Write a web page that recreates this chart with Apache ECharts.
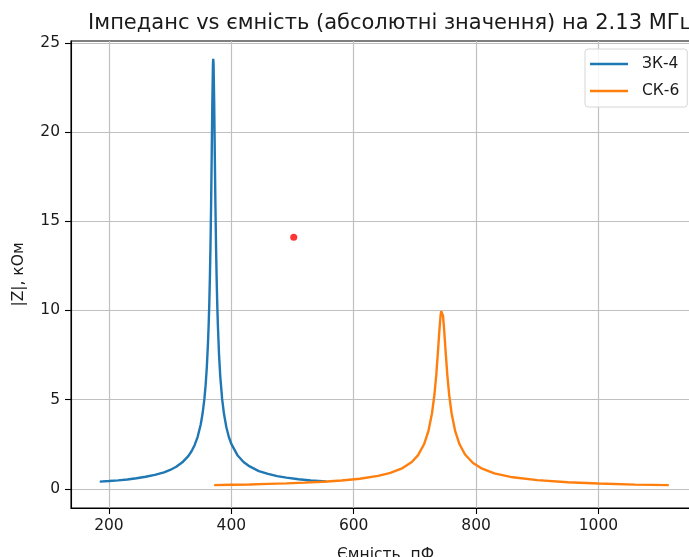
<!DOCTYPE html>
<html>
<head>
<meta charset="utf-8">
<script src="https://cdn.jsdelivr.net/npm/echarts@6/dist/echarts.min.js"></script>
<style>
  html, body { margin: 0; padding: 0; background: #fff; }
  #chart { width: 689px; height: 557px; }
</style>
</head>
<body>
<div id="chart"></div>
<script>
// Capacitance sweep (pF) and impedance magnitude (kOhm) for the ЗК-4 tank
const capZK4 = [185, 200, 215, 230, 245, 260, 275, 290, 300, 310, 320, 330, 335, 340, 345, 350,
  353, 356, 358, 360, 362, 363, 364, 365, 366, 367, 368, 369, 370, 370.5, 371, 372, 373, 374,
  375, 376, 377, 378, 380, 382, 385, 388, 392, 396, 400, 410, 420, 430, 445, 460, 475, 490,
  510, 530, 555];
const zZK4 = [0.41, 0.44, 0.48, 0.53, 0.60, 0.68, 0.79, 0.93, 1.06, 1.24, 1.49, 1.85, 2.11, 2.45,
  2.92, 3.61, 4.21, 5.04, 5.80, 6.83, 8.26, 9.21, 10.37, 11.84, 13.68, 15.98, 18.76, 21.69, 23.79,
  24.10, 23.79, 21.69, 18.76, 15.98, 13.68, 11.84, 10.37, 9.21, 7.48, 6.28, 5.04, 4.21, 3.44, 2.91,
  2.52, 1.89, 1.51, 1.26, 1.00, 0.84, 0.72, 0.63, 0.54, 0.47, 0.42];

// Capacitance sweep (pF) and impedance magnitude (kOhm) for the СК-6 tank
const capSK6 = [372, 400, 430, 460, 490, 520, 550, 580, 610, 640, 660, 680, 695, 705, 715, 722,
  728, 732, 735, 738, 740, 742, 743, 744, 745, 746, 748, 750, 753, 756, 760, 766, 773, 782, 795,
  810, 830, 860, 900, 950, 1000, 1060, 1115];
const zSK6 = [0.21, 0.23, 0.25, 0.28, 0.31, 0.35, 0.40, 0.47, 0.57, 0.73, 0.90, 1.17, 1.51, 1.88,
  2.50, 3.22, 4.24, 5.29, 6.40, 7.82, 8.85, 9.71, 9.96, 10.05, 9.96, 9.71, 8.85, 7.82, 6.40, 5.29,
  4.24, 3.22, 2.50, 1.93, 1.45, 1.13, 0.87, 0.65, 0.49, 0.37, 0.30, 0.24, 0.21];

// Single highlighted point
const markerCap = [502];
const markerZ = [14.1];

// Axis ticks
const xTicks = [200, 400, 600, 800, 1000];
const yTicks = [0, 5, 10, 15, 20, 25];

const seriesNames = ['ЗК-4', 'СК-6'];
const titleText = 'Імпеданс vs ємність (абсолютні значення) на 2.13 МГц';
const xName = 'Ємність, пФ';
const yName = '|Z|, кОм';

const pair = (xs, ys) => xs.map((x, i) => [x, ys[i]]);

const FONT = 'DejaVu Sans';
const TEXT = '#1a1a1a';
const GRID = '#c0c0c0';

const chart = echarts.init(document.getElementById('chart'), null, { renderer: 'canvas' });

chart.setOption({
  animation: false,
  backgroundColor: '#ffffff',
  title: {
    text: titleText,
    left: 386,
    textAlign: 'center',
    top: 8,
    textStyle: { fontFamily: FONT, fontSize: 21, fontWeight: 'normal', color: TEXT }
  },
  legend: {
    data: seriesNames,
    orient: 'vertical',
    left: 585,
    top: 49,
    padding: [7, 8, 8, 5],
    itemGap: 11,
    itemWidth: 38,
    itemHeight: 2.4,
    icon: 'rect',
    borderColor: '#d6d6d6',
    borderWidth: 1,
    borderRadius: 3,
    backgroundColor: 'rgba(255,255,255,0.85)',
    textStyle: { fontFamily: FONT, fontSize: 15.5, lineHeight: 16, color: TEXT, padding: [0, 0, 0, 9] }
  },
  grid: {
    left: 71,
    top: 41,
    width: 629,
    height: 467,
    outerBoundsMode: 'none',
    show: true,
    borderColor: '#000',
    borderWidth: 1.1,
    backgroundColor: 'transparent',
    containLabel: false
  },
  xAxis: {
    type: 'value',
    min: 138,
    max: 1166,
    name: xName,
    nameLocation: 'middle',
    nameGap: 39,
    nameTextStyle: { fontFamily: FONT, fontSize: 15.5, color: TEXT },
    axisLine: { show: true, onZero: false, lineStyle: { color: '#000', width: 1.1 } },
    axisTick: { show: true, length: 6, customValues: xTicks, lineStyle: { color: '#000', width: 1.1 } },
    axisLabel: {
      customValues: xTicks, margin: 10, fontFamily: FONT, fontSize: 15.5, color: TEXT,
      formatter: (v) => String(v)
    },
    splitLine: { show: true, lineStyle: { color: GRID, width: 1.2 } }
  },
  yAxis: {
    type: 'value',
    min: -1.07,
    max: 25.1,
    name: yName,
    nameLocation: 'middle',
    nameGap: 44,
    nameTextStyle: { fontFamily: FONT, fontSize: 15.5, color: TEXT },
    axisLine: { show: true, onZero: false, lineStyle: { color: '#000', width: 1.1 } },
    axisTick: { show: true, length: 6, customValues: yTicks, lineStyle: { color: '#000', width: 1.1 } },
    axisLabel: {
      customValues: yTicks, margin: 11, fontFamily: FONT, fontSize: 15.5, color: TEXT,
      formatter: (v) => String(v)
    },
    splitLine: { show: true, lineStyle: { color: GRID, width: 1.2 } }
  },
  series: [
    {
      name: seriesNames[0],
      type: 'line',
      data: pair(capZK4, zZK4),
      showSymbol: false,
      symbol: 'none',
      smooth: false,
      color: '#1f77b4',
      lineStyle: { color: '#1f77b4', width: 2.4 }
    },
    {
      name: seriesNames[1],
      type: 'line',
      data: pair(capSK6, zSK6),
      showSymbol: false,
      symbol: 'none',
      smooth: false,
      color: '#ff7f0e',
      lineStyle: { color: '#ff7f0e', width: 2.4 }
    },
    {
      name: 'point',
      type: 'scatter',
      data: pair(markerCap, markerZ),
      symbol: 'circle',
      symbolSize: 7,
      itemStyle: { color: '#ff0000' }
    }
  ]
});
</script>
</body>
</html>
